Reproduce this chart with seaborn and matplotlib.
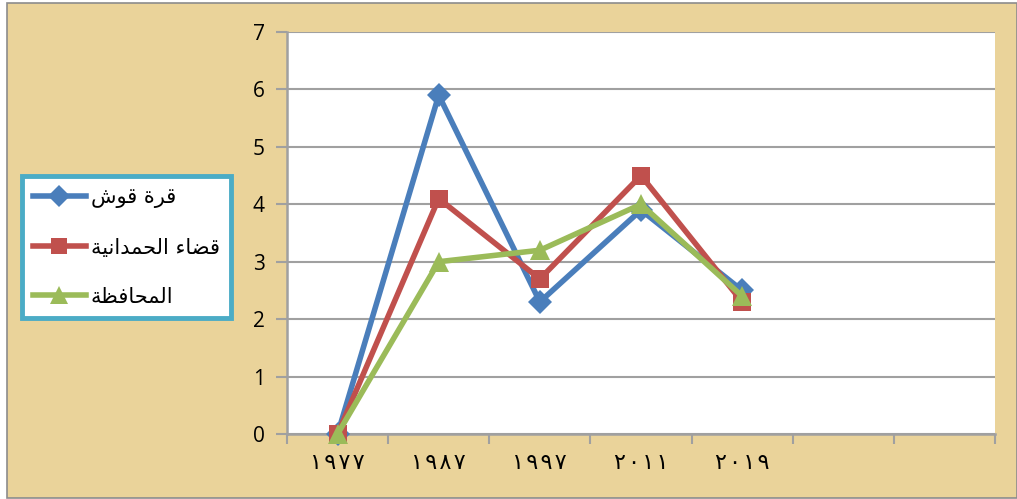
import matplotlib
matplotlib.use("Agg")
import matplotlib.pyplot as plt
from matplotlib.lines import Line2D
from matplotlib.patches import Rectangle
import seaborn as sns
import pandas as pd

# ---- data ---------------------------------------------------------------
years = ["١٩٧٧", "١٩٨٧", "١٩٩٧", "٢٠١١", "٢٠١٩"]
series_names = ["قرة قوش", "قضاء الحمدانية", "المحافظة"]
qaraqosh = [0, 5.9, 2.3, 3.9, 2.5]
hamdaniya = [0, 4.1, 2.7, 4.5, 2.3]
governorate = [0, 3.0, 3.2, 4.0, 2.4]
n_slots = 7  # category slots on the x axis (two trailing ones are empty)

colors = ["#4A7EBB", "#C0504D", "#9BBB59"]
markers = ["D", "s", "^"]
msizes = [12, 13, 15]
lw = 4.0

# ---- minimal Arabic shaping (presentation forms, visual order) ----------
FORMS = {
    "ء": ("\uFE80", None, None, None),
    "ا": ("\uFE8D", "\uFE8E", None, None),
    "ة": ("\uFE93", "\uFE94", None, None),
    "ح": ("\uFEA1", "\uFEA2", "\uFEA3", "\uFEA4"),
    "د": ("\uFEA9", "\uFEAA", None, None),
    "ر": ("\uFEAD", "\uFEAE", None, None),
    "ش": ("\uFEB5", "\uFEB6", "\uFEB7", "\uFEB8"),
    "ض": ("\uFEBD", "\uFEBE", "\uFEBF", "\uFEC0"),
    "ظ": ("\uFEC5", "\uFEC6", "\uFEC7", "\uFEC8"),
    "ف": ("\uFED1", "\uFED2", "\uFED3", "\uFED4"),
    "ق": ("\uFED5", "\uFED6", "\uFED7", "\uFED8"),
    "ل": ("\uFEDD", "\uFEDE", "\uFEDF", "\uFEE0"),
    "م": ("\uFEE1", "\uFEE2", "\uFEE3", "\uFEE4"),
    "ن": ("\uFEE5", "\uFEE6", "\uFEE7", "\uFEE8"),
    "و": ("\uFEED", "\uFEEE", None, None),
    "ي": ("\uFEF1", "\uFEF2", "\uFEF3", "\uFEF4"),
}


def shape(text):
    out = []
    for i, c in enumerate(text):
        if c not in FORMS:
            out.append(c)
            continue
        iso, fin, ini, med = FORMS[c]
        prev = text[i - 1] if i > 0 else ""
        nxt = text[i + 1] if i + 1 < len(text) else ""
        jp = prev in FORMS and FORMS[prev][2] is not None and fin is not None
        jn = ini is not None and nxt in FORMS and FORMS[nxt][1] is not None
        if jp and jn:
            out.append(med)
        elif jn:
            out.append(ini)
        elif jp:
            out.append(fin)
        else:
            out.append(iso)
    return "".join(out)[::-1]


# ---- long-form table ----------------------------------------------------
rows = []
for name, vals in zip(series_names, [qaraqosh, hamdaniya, governorate]):
    for i, v in enumerate(vals):
        rows.append({"pos": i, "value": v, "series": name})
df = pd.DataFrame(rows)

# ---- figure -------------------------------------------------------------
W, H = 1017, 499
fig = plt.figure(figsize=(W / 100, H / 100), dpi=100)
fig.patch.set_facecolor("white")

# papyrus-toned backdrop with thin grey frame
fig.patches.append(Rectangle((7 / W, 1 - 498 / H), (W - 7) / W, (498 - 3) / H,
                             transform=fig.transFigure, facecolor="#EAD39A",
                             edgecolor="#8C8C8C", linewidth=1.2, zorder=-10))

ax = fig.add_axes([287 / W, 1 - 434 / H, (995 - 287) / W, (434 - 32) / H])
ax.set_facecolor("white")

for name, col, mk, ms in zip(series_names, colors, markers, msizes):
    sub = df[df["series"] == name]
    sns.lineplot(data=sub, x="pos", y="value", ax=ax, color=col, linewidth=lw,
                 marker=mk, markersize=ms, markeredgewidth=0, legend=False,
                 clip_on=False, zorder=3)

ax.set_xlim(-0.5, n_slots - 0.5)
ax.set_ylim(0, 7)
ax.set_xlabel("")
ax.set_ylabel("")

grid_col = "#A0A0A0"
ax.set_yticks(range(0, 8))
ax.yaxis.grid(True, color=grid_col, linewidth=1.5, zorder=0)
ax.set_axisbelow(True)
ax.xaxis.grid(False)

ax.set_xticks(range(len(years)))
ax.set_xticklabels(["\u200a".join(y) for y in years], fontsize=16,
                   family=["DejaVu Sans"])
ax.set_xticks([i - 0.5 for i in range(n_slots + 1)], minor=True)
ax.tick_params(axis="x", which="major", length=0, pad=14)
ax.tick_params(axis="x", which="minor", length=7, width=1.5, color=grid_col)
ax.tick_params(axis="y", length=8, width=1.5, color=grid_col, pad=8,
               labelsize=15)
for lab in ax.get_yticklabels():
    lab.set_family(["Open Sans", "DejaVu Sans"])

for side in ["top", "right"]:
    ax.spines[side].set_visible(False)
for side in ["left", "bottom"]:
    ax.spines[side].set_color(grid_col)
    ax.spines[side].set_linewidth(1.8)

# ---- legend -------------------------------------------------------------
handles = [Line2D([0], [0], color=c, linewidth=lw, marker=m, markersize=s * 0.9,
                  markeredgewidth=0)
           for c, m, s in zip(colors, markers, msizes)]
labels = [shape(n) for n in series_names]
leg = fig.legend(handles, labels, loc="upper left",
                 bbox_to_anchor=(22 / W, 1 - 176 / H),
                 frameon=True, fancybox=False, framealpha=1,
                 handlelength=2.5, handletextpad=0.25, labelspacing=1.4,
                 borderpad=0.55, borderaxespad=0,
                 prop={"family": "DejaVu Sans", "size": 15})
frame = leg.get_frame()
frame.set_edgecolor("#4BACC6")
frame.set_linewidth(3.5)
frame.set_facecolor("white")

fig.savefig("out.png", dpi=100, facecolor=fig.get_facecolor())
